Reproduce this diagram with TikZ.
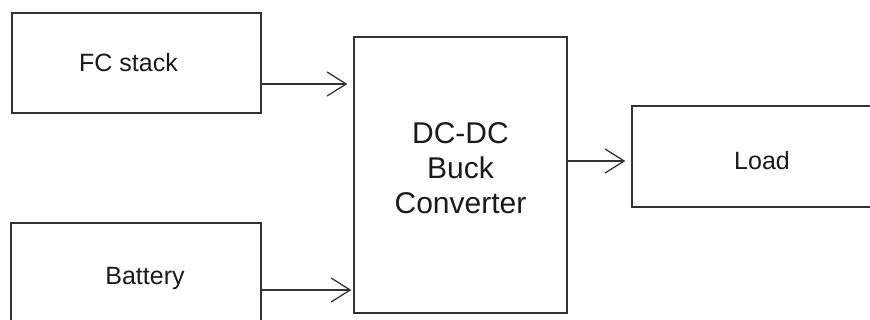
\documentclass[tikz,border=0pt]{standalone}
\usepackage{fontspec}
\setmainfont{Liberation Sans}
\usepackage{tikz}
\usetikzlibrary{arrows.meta,positioning,calc}
\definecolor{blkline}{HTML}{333333}
\definecolor{blktext}{HTML}{1A1A1A}
\tikzset{
  blockbox/.style={draw=blkline,line width=1.3pt,fill=white,align=center,
                   inner sep=0pt,text=blktext,font=\fontsize{25}{35}\selectfont},
  flow/.style={-{Straight Barb[length=19pt,width=24pt,line width=1.3pt]},
               line width=1.3pt,draw=blkline}
}
\begin{document}
\begin{tikzpicture}[x=1pt,y=-1pt]
    \useasboundingbox (0,0) rectangle (870,320);
    \clip (0,0) rectangle (870,320);
    \node[blockbox,minimum width=249pt,minimum height=100pt] (fc) at (136.5,63) {FC stack\hspace*{16pt}};
    \node[blockbox,minimum width=250pt,minimum height=110pt] (bat) at (136,278) {\hspace*{18pt}Battery};
    \node[blockbox,minimum width=213pt,minimum height=276pt,
          label={[align=center,text=blktext,font=\fontsize{30}{35}\selectfont,yshift=7pt]center:{DC-DC\\Buck\\Converter}}]
          (conv) at (460.5,175) {};
    \node[blockbox,minimum width=260pt,minimum height=101pt,
          label={[text=blktext,font=\fontsize{25}{35}\selectfont,yshift=-4pt]center:Load}]
          (load) at (762,156.5) {};

    \coordinate (fcout) at ([yshift=-21pt]fc.east);
    \coordinate (batout) at ([yshift=-12pt]bat.east);
    \coordinate (convout) at ([yshift=14pt]conv.east);
    \draw[flow,shorten >=6pt] (fcout) -- (conv.west |- fcout);
    \draw[flow,shorten >=2pt] (batout) -- (conv.west |- batout);
    \draw[flow,shorten >=6pt] (convout) -- (load.west |- convout);
  \end{tikzpicture}
\end{document}
